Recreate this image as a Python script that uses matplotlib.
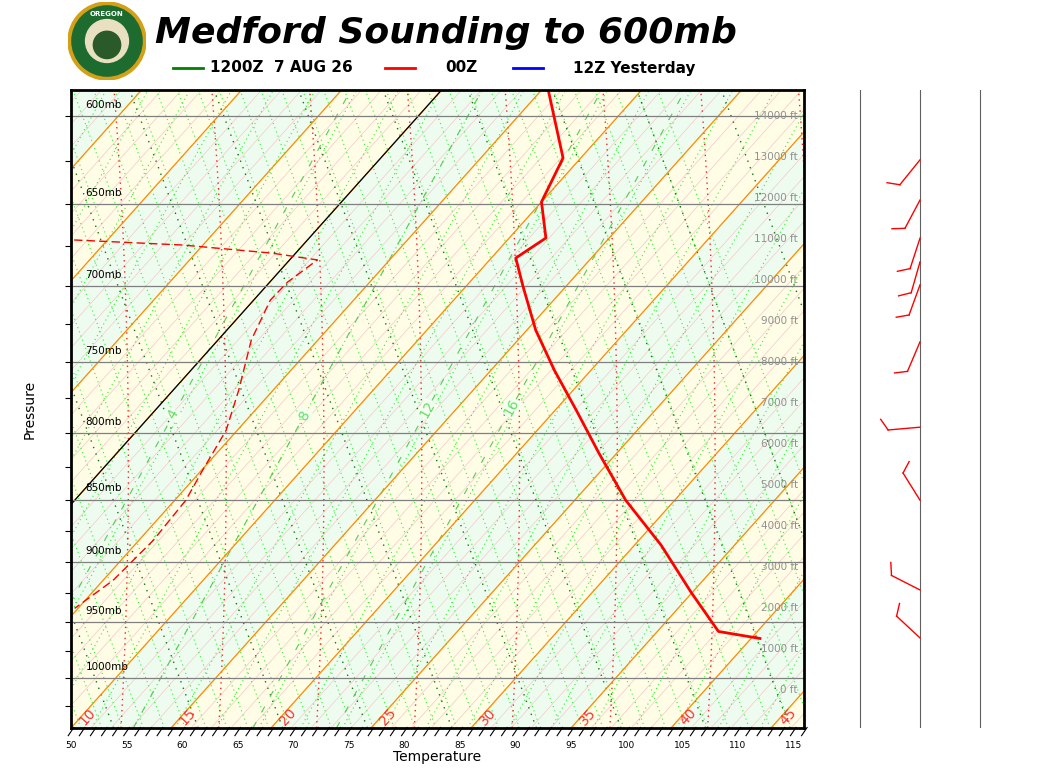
import numpy as np
import matplotlib
matplotlib.use("Agg")
from matplotlib import pyplot as plt
from matplotlib.patches import Circle

# sounding (pressure mb, temperature F)
temp_p = [964.3, 958.2, 924.8, 886.0, 850.6, 815.0, 783.8, 755.8, 728.8, 700.8, 682.6, 670.3, 648.7, 623.3, 586.0]
temp_f = [104.8, 100.5, 94.9, 88.4, 81.6, 75.4, 69.9, 64.7, 59.8, 55.2, 52.2, 53.3, 50.0, 48.4, 41.6]
dew_p = [671.5, 674.6, 679.6, 683.8, 697.7, 709.2, 735.4, 769.6, 798.2, 827.7, 850.6, 882.1, 914.8, 938.3]
dew_f = [11.0, 21.2, 29.9, 34.5, 33.6, 33.5, 35.0, 37.9, 40.0, 41.1, 42.0, 42.3, 41.9, 40.7]

# winds
wind_ft = [12930, 11950, 11020, 10440, 9880, 8490, 6410, 4630, 2440, 1270]
wind_dir = [219, 208, 198, 196, 200, 203, 265, 328, 297, 313]

p_levels = [600, 650, 700, 750, 800, 850, 900, 950, 1000]
alt_labels = list(range(0, 15000, 1000))
x_ticks = list(range(50, 120, 5))
iso_c_labels = [10, 15, 20, 25, 30, 35, 40, 45]

P_BOT, P_TOP = 1046.0, 586.0
PXF = 11.17          # pixels per degree F
PXL = 1100.0         # pixels per ln(p)
SKEW = 0.9 * PXL / PXF


def p_of(h):
    return P_BOT * np.exp(-np.asarray(h) / PXL)


def skew(t_f, p):
    return np.asarray(t_f) + SKEW * np.log(P_BOT / np.asarray(p))


def px_line(x0, slope, curve=0.0):
    h = np.linspace(0, 700, 80)
    xpx = x0 + slope * h + curve * h ** 2
    return 55 + (xpx - 123) / PXF, p_of(h)


def ft_to_p(ft):
    return 1000 * np.exp((12 - 41 * np.asarray(ft) / 1000.0) / PXL)


fig = plt.figure(figsize=(10.6, 7.68), dpi=100)
ax = fig.add_axes([71 / 1060, 40 / 768, 733 / 1060, 638 / 768])
ax.set_yscale("log")
ax.set_ylim(P_BOT, P_TOP)
ax.set_xlim(50.34, 115.97)

# background bands and isotherms
pp = np.array([P_BOT, P_TOP])
for c in range(-30, 60, 5):
    a = skew(32 + 1.8 * c, pp)
    b = skew(32 + 1.8 * (c + 5), pp)
    col = "#eefcf0" if (c // 5) % 2 == 0 else "#fffde6"
    ax.fill_betweenx(pp, a, b, color=col, lw=0, zorder=0)
for c in range(-30, 60):
    ax.plot(skew(32 + 1.8 * c, pp), pp, color="#f4c8c8", lw=0.5, zorder=1)

# light green dotted grid
for x0 in np.arange(-700, 900, 21):
    x, p = px_line(x0, -0.375)
    ax.plot(x, p, color="#33ee33", lw=0.8, ls=(0, (1, 3)), zorder=2)
for x0 in np.arange(-500, 900, 42):
    x, p = px_line(x0, 0.55)
    ax.plot(x, p, color="#33ee33", lw=0.8, ls=(0, (1, 3)), zorder=2)
# dark green dotted (dry adiabats)
for x0 in np.arange(-400, 1100, 85):
    x, p = px_line(x0, -0.375)
    ax.plot(x, p, color="#117711", lw=1.0, ls=(0, (1, 4)), zorder=2)
# red dotted mixing lines
for xb in np.arange(45.7, 125, 8.8):
    x0 = 123 + (xb - 55) * PXF
    x, p = px_line(x0, 0.056, -1.05e-4)
    ax.plot(x, p, color="#ff2020", lw=1.0, ls=(0, (1, 3)), zorder=2)
# moist adiabats
for lx, ly, lab in [(170, 415, "4"), (302, 415, "8"), (425, 410, "12"), (510, 408, "16")]:
    h0 = 728 - ly
    x, p = px_line(lx - 0.55 * h0, 0.55)
    ax.plot(x, p, color="#55cc55", lw=0.8, ls=(0, (6, 10)), zorder=2)
    ax.text(55 + (lx - 123) / PXF, p_of(h0), lab, color="#66dd66", fontsize=10,
            rotation=60, ha="center", va="center", zorder=3,
            bbox=dict(fc="#f4fff0", ec="none", pad=0.5))

# orange isotherms every 5C
for c in range(-30, 60, 5):
    ax.plot(skew(32 + 1.8 * c, pp), pp, color="#ff8c00", lw=0.9, zorder=3)
for c in iso_c_labels:
    tf = 32 + 1.8 * c
    ax.text(skew(tf, 1040) + 1.0, 1035, str(c), color="#ff3030", fontsize=10,
            rotation=48, ha="center", va="center", zorder=4)

# freezing line
ax.plot(skew(32, pp), pp, color="black", lw=0.9, zorder=4)

# pressure lines
for pl in p_levels:
    ax.axhline(pl, color="#808080", lw=0.9, zorder=4)
    ax.text(51.3, pl * 0.99, f"{pl}mb", fontsize=7.5, va="center", ha="left", zorder=5)

# altitude labels
for ft in alt_labels:
    ax.text(115.4, ft_to_p(ft), f"{ft} ft", fontsize=7.5, color="#909090",
            ha="right", va="center", zorder=5)

# traces
ax.plot(skew(temp_f, temp_p), temp_p, color="red", lw=2, zorder=6)
ax.plot(skew(dew_f, dew_p), dew_p, color="red", lw=1, ls=(0, (6, 3)), zorder=6)

# axes styling
ax.set_xticks(x_ticks)
ax.set_xticklabels([str(t) for t in x_ticks], fontsize=6.5)
ax.tick_params(axis="x", length=0, pad=9)
ax.set_yticks(list(range(600, 1050, 25)))
ax.set_yticklabels([])
ax.yaxis.set_minor_locator(matplotlib.ticker.NullLocator())
ax.tick_params(axis="y", length=4, direction="out")
for s in ax.spines.values():
    s.set_linewidth(2)
    s.set_zorder(10)
for t in range(50, 117):
    ax.plot([t - 0.25, t + 0.25], [P_BOT * 1.007, P_BOT * 0.9995], color="black",
            lw=0.8, clip_on=False, zorder=10)
ax.set_xlabel("Temperature", fontsize=10, labelpad=0)
ax.set_ylabel("Pressure", fontsize=10, labelpad=17)

# wind panel (pixel coordinates)
wax = fig.add_axes([840 / 1060, 40 / 768, 160 / 1060, 638 / 768])
wax.set_xlim(840, 1000)
wax.set_ylim(728, 90)
wax.axis("off")
for xv in [860, 920, 980]:
    wax.plot([xv, xv], [90, 728], color="#606060", lw=0.8)
for ft, d in zip(wind_ft, wind_dir):
    y = 690 - 41 * ft / 1000.0
    r = np.radians(d)
    ex, ey = 920 + 32 * np.sin(r), y - 32 * np.cos(r)
    wax.plot([920, ex], [y, ey], color="red", lw=1)
    rb = r + np.radians(60)
    wax.plot([ex, ex + 13 * np.sin(rb)], [ey, ey - 13 * np.cos(rb)], color="red", lw=1)

# header
lax = fig.add_axes([68 / 1060, 688 / 768, 78 / 1060, 78 / 768])
lax.set_xlim(-1, 1)
lax.set_ylim(-1, 1)
lax.set_aspect("equal")
lax.axis("off")
lax.add_patch(Circle((0, 0), 1, color="#d4a017"))
lax.add_patch(Circle((0, 0), 0.9, color="#1e6b30"))
lax.add_patch(Circle((0, 0), 0.55, color="#e8e0c0"))
lax.add_patch(Circle((0, -0.1), 0.35, color="#2a5a2a"))
lax.text(0, 0.68, "OREGON", color="white", fontsize=5, fontweight="bold", ha="center", va="center")

fig.text(155 / 1060, 1 - 33 / 768, "Medford Sounding to 600mb", fontsize=26,
         fontweight="bold", style="italic", va="center", ha="left")
yl = 1 - 68 / 768
for x1, col, lab, tx in [(173, "green", "1200Z  7 AUG 26", 210), (385, "red", "00Z", 445),
                         (513, "blue", "12Z Yesterday", 573)]:
    fig.add_artist(plt.Line2D([x1 / 1060, (x1 + 30) / 1060], [yl, yl], color=col, lw=2))
    fig.text(tx / 1060, yl, lab, fontsize=11, fontweight="bold", va="center")

fig.savefig("out.png", dpi=100)
